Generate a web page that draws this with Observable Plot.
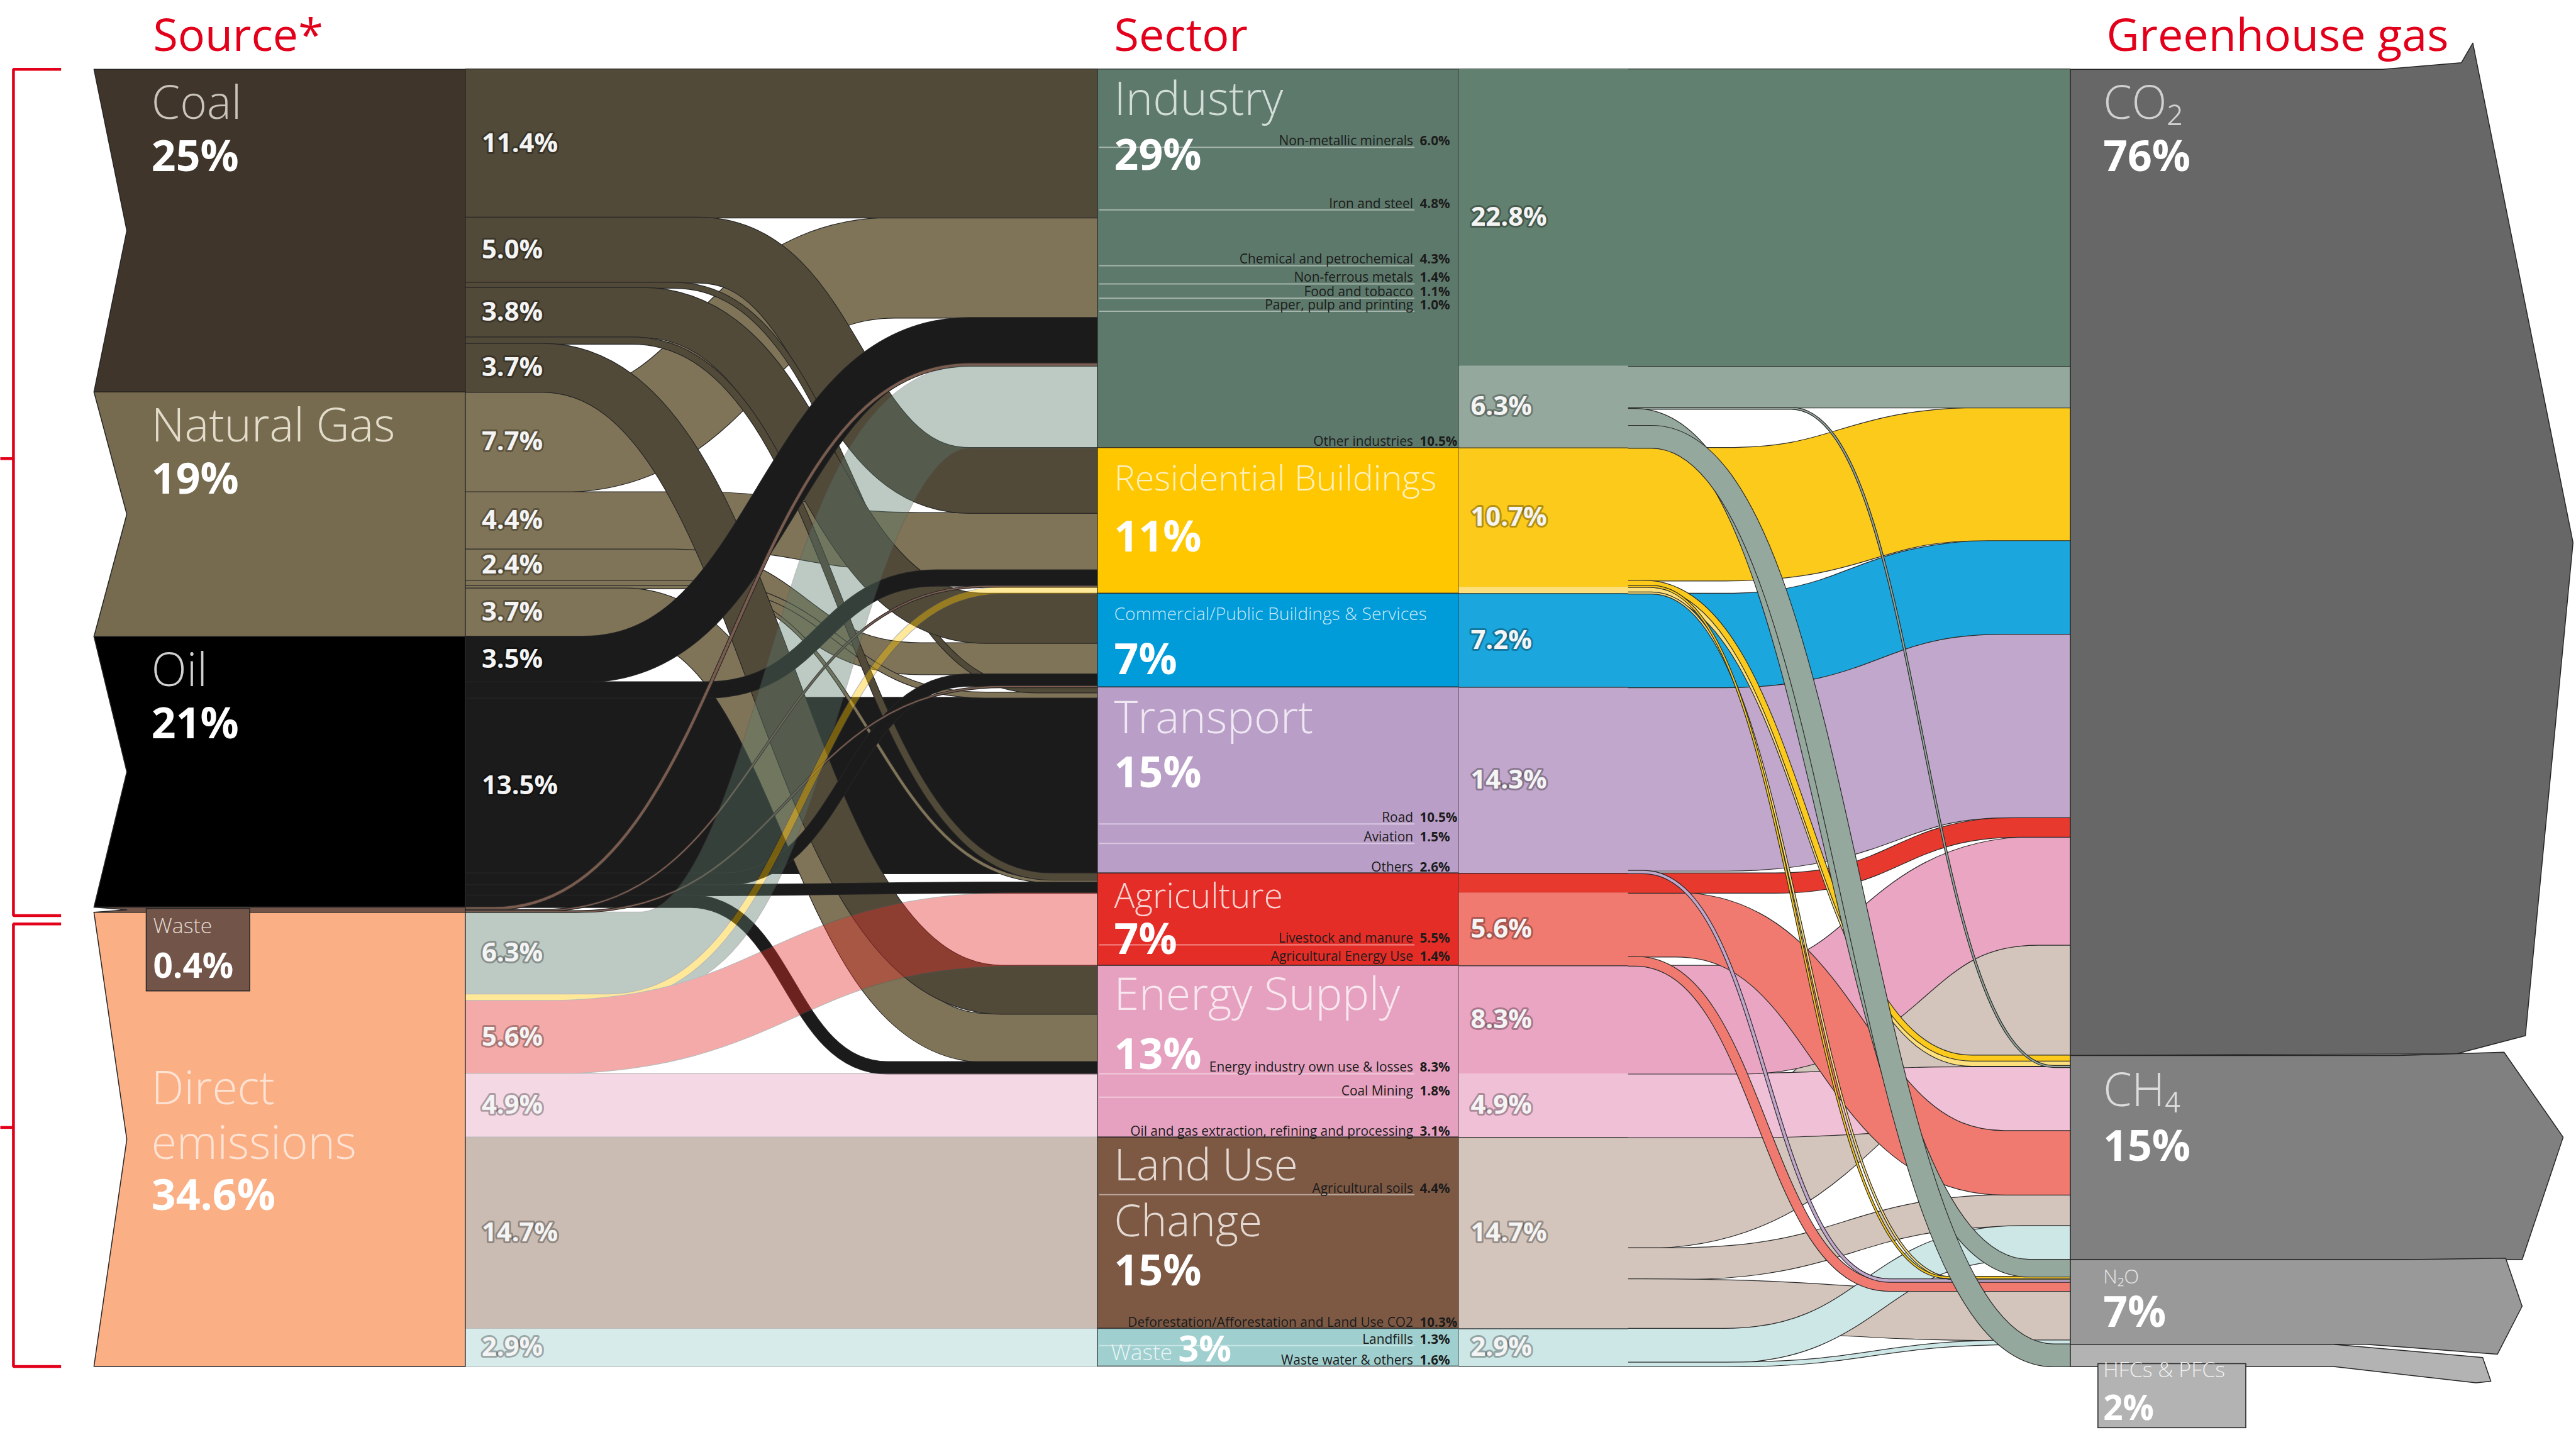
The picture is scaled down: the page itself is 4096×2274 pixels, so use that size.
<!DOCTYPE html>
<html>
<head>
<meta charset="utf-8">
<script src="https://cdn.jsdelivr.net/npm/d3@7"></script>
<script src="https://cdn.jsdelivr.net/npm/@observablehq/plot@0.6"></script>
<style>
  html, body { margin: 0; padding: 0; background: #fff; }
  #chart svg { display: block; }
</style>
</head>
<body>
<div id="chart"></div>
<script>
// ================= DATA =================
const columnTitles = ["Source*", "Sector", "Greenhouse gas"];
const sources = ["Coal", "Natural Gas", "Oil", "Waste", "Direct emissions"];
const sourceShares = ["25%", "19%", "21%", "0.4%", "34.6%"];
const sectors = ["Industry", "Residential Buildings", "Commercial/Public Buildings & Services", "Transport",
  "Agriculture", "Energy Supply", "Land Use Change", "Waste"];
const sectorShares = ["29%", "11%", "7%", "15%", "7%", "13%", "15%", "3%"];
const gases = ["CO₂", "CH₄", "N₂O", "HFCs & PFCs"];
const gasShares = ["76%", "15%", "7%", "2%"];

// source -> sector (% of total emissions)
const sourceToSector = [
  ["Coal", "Industry", 11.4],
  ["Coal", "Residential Buildings", 5.0],
  ["Coal", "Transport", 0.4],
  ["Coal", "Commercial/Public Buildings & Services", 3.8],
  ["Coal", "Agriculture", 0.5],
  ["Coal", "Energy Supply", 3.7],
  ["Natural Gas", "Industry", 7.7],
  ["Natural Gas", "Residential Buildings", 4.4],
  ["Natural Gas", "Commercial/Public Buildings & Services", 2.4],
  ["Natural Gas", "Transport", 0.4],
  ["Natural Gas", "Agriculture", 0.2],
  ["Natural Gas", "Energy Supply", 3.7],
  ["Oil", "Industry", 3.5],
  ["Oil", "Residential Buildings", 1.2],
  ["Oil", "Transport", 13.5],
  ["Oil", "Commercial/Public Buildings & Services", 0.9],
  ["Oil", "Agriculture", 0.8],
  ["Oil", "Energy Supply", 0.9],
  ["Waste", "Industry", 0.2],
  ["Waste", "Residential Buildings", 0.1],
  ["Waste", "Commercial/Public Buildings & Services", 0.1],
  ["Direct emissions", "Industry", 6.3],
  ["Direct emissions", "Residential Buildings", 0.5],
  ["Direct emissions", "Agriculture", 5.6],
  ["Direct emissions", "Energy Supply", 4.9],
  ["Direct emissions", "Land Use Change", 14.7],
  ["Direct emissions", "Waste", 2.9]
];

// right-hand bands of each sector
const sectorParts = [
  ["Industry", "Industry", 22.8],
  ["Industry (process)", "Industry", 6.3],
  ["Residential", "Residential Buildings", 10.7],
  ["Residential (biomass)", "Residential Buildings", 0.5],
  ["Commercial", "Commercial/Public Buildings & Services", 7.2],
  ["Transport", "Transport", 14.3],
  ["Agriculture (energy)", "Agriculture", 1.5],
  ["Agriculture", "Agriculture", 5.6],
  ["Energy Supply", "Energy Supply", 8.3],
  ["Energy Supply (fugitive)", "Energy Supply", 4.9],
  ["Land Use Change", "Land Use Change", 14.7],
  ["Waste", "Waste", 2.9]
];

// sector band -> gas
const sectorToGas = [
  ["Industry", "CO₂", 22.8],
  ["Industry (process)", "CO₂", 3.2],
  ["Industry (process)", "CH₄", 0.1],
  ["Industry (process)", "N₂O", 1.3],
  ["Industry (process)", "HFCs & PFCs", 1.7],
  ["Residential", "CO₂", 10.2],
  ["Residential", "CH₄", 0.4],
  ["Residential", "N₂O", 0.1],
  ["Residential (biomass)", "CH₄", 0.4],
  ["Residential (biomass)", "N₂O", 0.1],
  ["Commercial", "CO₂", 7.2],
  ["Transport", "CO₂", 14.1],
  ["Transport", "N₂O", 0.2],
  ["Agriculture (energy)", "CO₂", 1.5],
  ["Agriculture", "CH₄", 4.9],
  ["Agriculture", "N₂O", 0.7],
  ["Energy Supply", "CO₂", 8.3],
  ["Energy Supply (fugitive)", "CH₄", 4.9],
  ["Land Use Change", "CO₂", 8.5],
  ["Land Use Change", "CH₄", 2.4],
  ["Land Use Change", "N₂O", 3.8],
  ["Waste", "CH₄", 2.6],
  ["Waste", "N₂O", 0.3]
];
const ch4StackOrder = ["Residential", "Residential (biomass)", "Industry (process)", "Energy Supply (fugitive)",
  "Agriculture", "Land Use Change", "Waste"];

// breakdown printed inside the sector blocks
const subSectors = [
  ["Industry", "Non-metallic minerals", 6.0],
  ["Industry", "Iron and steel", 4.8],
  ["Industry", "Chemical and petrochemical", 4.3],
  ["Industry", "Non-ferrous metals", 1.4],
  ["Industry", "Food and tobacco", 1.1],
  ["Industry", "Paper, pulp and printing", 1.0],
  ["Industry", "Other industries", 10.5],
  ["Transport", "Road", 10.5],
  ["Transport", "Aviation", 1.5],
  ["Transport", "Others", 2.6],
  ["Agriculture", "Livestock and manure", 5.5],
  ["Agriculture", "Agricultural Energy Use", 1.4],
  ["Energy Supply", "Energy industry own use & losses", 8.3],
  ["Energy Supply", "Coal Mining", 1.8],
  ["Energy Supply", "Oil and gas extraction, refining and processing", 3.1],
  ["Land Use Change", "Agricultural soils", 4.4],
  ["Land Use Change", "Deforestation/Afforestation and Land Use CO2", 10.3],
  ["Waste", "Landfills", 1.3],
  ["Waste", "Waste water & others", 1.6]
];

// ================= LAYOUT & STYLE =================
const W = 4096, H = 2274;
const S = W / 1568;          // reference-view px -> output px
const TOP = 42, K = 7.92;    // reference-view y of 0 %, px per 1 %
const PX = K * S;            // output px per 1 %
const yDomain = [-TOP / K, (H / S - TOP) / K];
const off = n => n / K;      // reference-view px offset -> value units
const fs = n => n * S;       // reference-view font size -> px
const X = {srcL: 57, srcNotch: 77, srcR: 283, secL: 668, secR: 888, partR: 991, gasL: 1260};
const FONT = "Open Sans, Noto Sans, sans-serif";

const sourceColors = ["#40352a", "#766b4e", "#000000", "#725548", "#fbaf85"];
const sourceTextColors = ["#c9c4bc", "#e3dccb", "#d0d0d0", "#e3d8d2", "#fde3d4"];
const flowColors = {"Coal": "#524a39", "Natural Gas": "#807458", "Oil": "#1b1b1b", "Waste": "#7a5c4f"};
const sectorColors = ["#5d796b", "#ffc700", "#009bd9", "#b99ec7", "#e52d27", "#e6a1c0", "#7d5944", "#9fcfcf"];
const partColors = {
  "Industry": "#62806f", "Industry (process)": "#95a89d", "Residential": "#fcca1b",
  "Residential (biomass)": "#fde07c", "Commercial": "#1ba7de", "Transport": "#c1a7cb",
  "Agriculture (energy)": "#e8392f", "Agriculture": "#f07a70", "Energy Supply": "#e9a5c1",
  "Energy Supply (fugitive)": "#f0c0d7", "Land Use Change": "#d3c5bc", "Waste": "#cde6e6"
};
const gasColors = ["#676767", "#808080", "#999999", "#b3b3b3"];
const DIRECT_OPACITY = 0.4;

// where each band bends (reference-view x): [start of curve, end of curve]
const leftBends = [
  [420, 560], [425, 590], [410, 630], [390, 600], [385, 640], [330, 610],
  [340, 545], [420, 560], [410, 560], [420, 600], [420, 640], [380, 600],
  [355, 590], [430, 570], [420, 560], [440, 590], [420, 600], [420, 540],
  [300, 590], [330, 600], [350, 610],
  [390, 590], [370, 610], [330, 620], [420, 560], [420, 560], [420, 560]
];
const rightBends = [
  [1050, 1200], [1050, 1200], [1090, 1250], [995, 1235], [1005, 1250],
  [1050, 1210], [1000, 1200], [1005, 1185], [1000, 1200], [1005, 1190],
  [1050, 1220], [1050, 1225], [1000, 1150], [1080, 1230], [1020, 1220], [995, 1150],
  [1060, 1240], [1050, 1200], [1000, 1250], [1020, 1230], [1000, 1230], [1050, 1230], [1050, 1230]
];
const leftLayers = ["Natural Gas", "Coal", "Oil", "Waste"];
const rightLayers = ["Land Use Change", "Waste", "Energy Supply (fugitive)", "Energy Supply", "Agriculture",
  "Agriculture (energy)", "Transport", "Commercial", "Residential (biomass)", "Residential", "Industry (process)", "Industry"];

const sectorLabelLayout = [
  {size: 28, offs: [28], pct: 61, col: "#d3ddd8"},
  {size: 21.3, offs: [26], pct: 63, col: "#fff0bf"},
  {size: 10.8, offs: [16], pct: 49, col: "#cce9f7"},
  {size: 27.5, offs: [28], pct: 61, col: "#efe8f3"},
  {size: 21, offs: [21], pct: 49, col: "#fad3d1"},
  {size: 27.5, offs: [27], pct: 63, col: "#f9e7ef"},
  {size: 26.5, offs: [26, 60], pct: 90, col: "#e4d9d2"},
  {size: 13.5, offs: [19], pct: 20, pctX: 717, pctSize: 22, col: "#e9f5f5", x: 676}
];
const gasLabelLayout = [
  {size: 28, off: 30, pct: 62, pctSize: 26, col: "#d0d0d0"},
  {size: 28, off: 31, pct: 64, pctSize: 26, col: "#dcdcdc"},
  {size: 12, off: 14.5, pct: 41, pctSize: 26, col: "#e6e6e6"},
  {size: 13, off: 20, pct: 46, pctSize: 21, col: "#efefef"}
];
const gasShapes = [
  [[1260, 0, 0], [1450, 0, 0], [1498, 0, -4], [1505, 0, -16], [1566, 0.48, 0], [1537, 1, -12], [1495, 1, -1], [1260, 1, 0]],
  [[1260, 0, 0], [1460, 0, 0], [1524, 0, -2], [1560, 0.4, 0], [1535, 1, 0], [1260, 1, 0]],
  [[1260, 0, 0], [1460, 0, 0], [1525, 0, -1], [1535, 0.55, 0], [1520, 1, 6], [1440, 1, 0], [1260, 1, 0]],
  [[1260, 0, 0], [1420, 0, 0], [1511, 0, 8], [1516, 1, 9], [1507, 1, 10], [1420, 1, 0], [1260, 1, 0]]
];

// ================= STACKING =================
const srcIdx = new Map(sources.map((d, i) => [d, i]));
const secIdx = new Map(sectors.map((d, i) => [d, i]));
const L = sourceToSector.map(([s, t, val], i) => ({i, s, t, val}));
const srcBox = new Map();
let acc = 0;
for (const s of sources) {
  const y0 = acc;
  for (const l of L.filter(l => l.s === s)) { l.sy0 = acc; acc += l.val; l.sy1 = acc; }
  srcBox.set(s, {y0, y1: acc});
}
const secBox = new Map();
acc = 0;
for (const t of sectors) {
  const y0 = acc;
  const ins = L.filter(l => l.t === t).sort((a, b) => srcIdx.get(a.s) - srcIdx.get(b.s) || a.i - b.i);
  for (const l of ins) { l.ty0 = acc; acc += l.val; l.ty1 = acc; }
  secBox.set(t, {y0, y1: acc});
}
const P = sectorParts.map(([key, sector, val], i) => ({key, sector, val, i}));
const partIdx = new Map(P.map(p => [p.key, p.i]));
const R = sectorToGas.map(([p, g, val], i) => ({i, p, g, val}));
acc = 0;
for (const p of P) {
  p.y0 = acc;
  for (const r of R.filter(r => r.p === p.key)) { r.sy0 = acc; acc += r.val; r.sy1 = acc; }
  p.y1 = acc;
}
const gasBox = new Map();
acc = 0;
for (const g of gases) {
  const y0 = acc;
  const rank = r => g === "CH₄" ? ch4StackOrder.indexOf(r.p) : partIdx.get(r.p);
  const ins = R.filter(r => r.g === g).sort((a, b) => rank(a) - rank(b));
  for (const r of ins) { r.ty0 = acc; acc += r.val; r.ty1 = acc; }
  gasBox.set(g, {y0, y1: acc});
}

// ================= GEOMETRY ROWS =================
const OUTLINE = 2.4;
function bandRows(links, x0, x1, bends, colorOf, outlineColor, tag) {
  const rows = [];
  for (const l of links) {
    const c0 = (l.sy0 + l.sy1) / 2, c1 = (l.ty0 + l.ty1) / 2;
    const [xa, xb] = bends[l.i];
    const pts = [[x0, c0], [xa, c0], [xb, c1], [x1, c1]];
    const w = l.val * PX;
    for (const [part, sw, col] of [["o", w + OUTLINE, outlineColor], ["f", w, colorOf(l)]])
      for (const [x, y] of pts) rows.push({id: `${tag}${l.i}${part}`, x, y, w: sw, col});
  }
  return rows;
}
const leftRank = l => (l.s === "Oil" && l.t === "Transport") ? -1 : leftLayers.indexOf(l.s);
const fossilLinks = L.filter(l => l.s !== "Direct emissions").sort((a, b) => leftRank(a) - leftRank(b) || a.i - b.i);
const directLinks = L.filter(l => l.s === "Direct emissions");
const rightLinks = R.slice().sort((a, b) => rightLayers.indexOf(a.p) - rightLayers.indexOf(b.p) || a.i - b.i);

const fossilRows = bandRows(fossilLinks, X.srcR, X.secL, leftBends, l => flowColors[l.s], "#262626", "f");
const directRows = bandRows(directLinks, X.srcR, X.secL, leftBends, l => sectorColors[secIdx.get(l.t)], "#555555", "d");
const rightRows = bandRows(rightLinks, X.secR, X.gasL, rightBends, r => partColors[r.p], "#2a2a2a", "r");

const chevronRows = [];
sources.forEach((s, i) => {
  const b = srcBox.get(s);
  const pts = [[X.srcL, b.y0], [X.srcR, b.y0], [X.srcR, b.y1], [X.srcL, b.y1], [X.srcNotch, (b.y0 + b.y1) / 2]];
  for (const [x, y] of pts) chevronRows.push({id: s, x, y, col: sourceColors[i]});
});
const gasRows = [];
gases.forEach((g, i) => {
  const b = gasBox.get(g);
  for (const [x, t, o] of gasShapes[i]) gasRows.push({id: g, x, y: b.y0 + t * (b.y1 - b.y0) + off(o), col: gasColors[i]});
});
const sectorRects = sectors.map((t, i) => ({...secBox.get(t), col: sectorColors[i]}));
const partRects = P.map(p => ({y0: p.y0, y1: p.y1, col: partColors[p.key]}));
const partBounds = sectors.slice(1).map(t => ({y: secBox.get(t).y0}));

const wasteB = srcBox.get("Waste"), hfcB = gasBox.get("HFCs & PFCs");
const boxes = [
  {x1: 89, x2: 152, y0: wasteB.y0 + off(1), y1: wasteB.y1 + off(48), col: sourceColors[3]},
  {x1: 1277, x2: 1367, y0: hfcB.y1 - off(1.5), y1: hfcB.y1 + off(37.5), col: gasColors[3]}
];

const fossilTop = srcBox.get("Coal").y0, fossilBot = wasteB.y1, dirB = srcBox.get("Direct emissions");
const bracketRows = [];
[[fossilTop, fossilBot + off(2)], [dirB.y0 + off(7), dirB.y1]].forEach(([a, b], k) => {
  for (const [x, y] of [[37, a], [8, a], [8, b], [37, b]]) bracketRows.push({id: "b" + k, x, y});
  const m = a + 0.46 * (b - a);
  bracketRows.push({id: "t" + k, x: 0, y: m}, {id: "t" + k, x: 8, y: m});
});

// ================= TEXT ROWS =================
const light = [], bold = [], small = [], smallBold = [], linkLab = [], titles = [];
sources.forEach((s, i) => {
  const b = srcBox.get(s);
  if (s === "Waste") {
    light.push({x: 93, y: b.y0 + off(16), text: s, size: fs(13), col: sourceTextColors[i]});
    bold.push({x: 93, y: b.y0 + off(43), text: sourceShares[i], size: fs(21), col: "#ffffff"});
  } else if (s === "Direct emissions") {
    s.split(" ").forEach((w, j) => light.push({x: 92, y: b.y0 + off(117 + 33 * j), text: w, size: fs(28), col: sourceTextColors[i]}));
    bold.push({x: 92, y: b.y0 + off(181), text: sourceShares[i], size: fs(26), col: "#ffffff"});
  } else {
    light.push({x: 92, y: b.y0 + off(30), text: s, size: fs(28), col: sourceTextColors[i]});
    bold.push({x: 92, y: b.y0 + off(62), text: sourceShares[i], size: fs(26), col: "#ffffff"});
  }
});
sectors.forEach((t, i) => {
  const b = secBox.get(t), lay = sectorLabelLayout[i];
  const lines = t === "Land Use Change" ? ["Land Use", "Change"] : [t];
  lines.forEach((ln, j) => light.push({x: lay.x ?? 678, y: b.y0 + off(lay.offs[j]), text: ln, size: fs(lay.size), col: lay.col}));
  bold.push({x: lay.pctX ?? 678, y: b.y0 + off(lay.pct), text: sectorShares[i], size: fs(lay.pctSize ?? 26), col: "#ffffff"});
});
gases.forEach((g, i) => {
  const b = gasBox.get(g), lay = gasLabelLayout[i];
  light.push({x: 1280, y: b.y0 + off(lay.off), text: g, size: fs(lay.size), col: lay.col});
  bold.push({x: 1280, y: b.y0 + off(lay.pct), text: gasShares[i], size: fs(lay.pctSize), col: "#ffffff"});
});
const subLines = [];
for (const t of sectors) {
  const items = subSectors.filter(d => d[0] === t);
  const b = secBox.get(t);
  let cum = 0;
  items.forEach(([, name, val], j) => {
    cum += val;
    const yy = b.y0 + Math.min(cum, b.y1 - b.y0);
    small.push({x: 860, y: yy - off(1.2), text: name, size: fs(8), col: "#1c1c1c"});
    smallBold.push({x: 864, y: yy - off(1.2), text: val.toFixed(1) + "%", size: fs(7.9), col: "#1c1c1c"});
    if (j < items.length - 1) subLines.push({y: yy});
  });
}
L.filter(l => l.val >= 2).forEach(l => linkLab.push({x: 293, y: (l.sy0 + l.sy1) / 2, text: l.val.toFixed(1) + "%", size: fs(16), col: "#f4f4f4"}));
P.filter(p => p.val >= 2).forEach(p => linkLab.push({x: 895, y: (p.y0 + p.y1) / 2, text: p.val.toFixed(1) + "%", size: fs(16), col: "#f4f4f4"}));
[93, 678, 1282].forEach((x, i) => titles.push({x, y: off(31 - TOP), text: columnTitles[i], size: fs(27.5), col: "#e2001a"}));

// ================= PLOT =================
const bandOpts = {x: "x", y: "y", z: "id", stroke: "col", strokeWidth: "w", curve: "bump-x", strokeLinecap: "butt", strokeLinejoin: "round"};
const polyOpts = {x: "x", y: "y", z: "id", fill: "col", stroke: "#262626", strokeWidth: 1.5, curve: "linear-closed"};
const txt = (rows, o) => Plot.text(rows, {x: "x", y: "y", text: "text", fill: "col", fontSize: "size",
  textAnchor: "start", lineAnchor: "bottom", fontFamily: FONT, ...o});

const chart = Plot.plot({
  width: W, height: H, margin: 0,
  style: {background: "#ffffff", fontFamily: FONT},
  x: {type: "linear", domain: [0, 1568], range: [0, W], axis: null},
  y: {type: "linear", domain: yDomain, range: [0, H], axis: null},
  color: {type: "identity"},
  marks: [
    Plot.line(fossilRows, bandOpts),
    Plot.line(directRows, bandOpts),
    Plot.line(rightRows, bandOpts),
    Plot.line(chevronRows, polyOpts),
    Plot.rect(sectorRects, {x1: X.secL, x2: X.secR, y1: "y0", y2: "y1", fill: "col", stroke: "#262626", strokeWidth: 1.5, strokeOpacity: 0.8}),
    Plot.rect(partRects, {x1: X.secR, x2: X.partR, y1: "y0", y2: "y1", fill: "col"}),
    Plot.ruleY(partBounds, {y: "y", x1: X.secR, x2: X.partR, stroke: "#262626", strokeWidth: 1.5, strokeOpacity: 0.8}),
    Plot.line(gasRows, polyOpts),
    Plot.rect(boxes, {x1: "x1", x2: "x2", y1: "y0", y2: "y1", fill: "col", stroke: "#262626", strokeWidth: 1.5}),
    Plot.ruleY(subLines, {y: "y", x1: 669, x2: 861, stroke: "#ffffff", strokeOpacity: 0.45, strokeWidth: 2}),
    Plot.line(bracketRows, {x: "x", y: "y", z: "id", stroke: "#e2001a", strokeWidth: 4.5, curve: "linear", strokeLinecap: "butt", strokeLinejoin: "miter"}),
    txt(light, {fontWeight: 300}),
    txt(bold, {fontWeight: 700}),
    txt(small, {fontWeight: 400, textAnchor: "end"}),
    txt(smallBold, {fontWeight: 700}),
    txt(linkLab, {fontWeight: 700, lineAnchor: "middle", stroke: "#000000", strokeOpacity: 0.3, strokeWidth: 6, paintOrder: "stroke"}),
    txt(titles, {fontWeight: 500})
  ]
});
document.getElementById("chart").append(chart);
// the second line mark holds the direct-emission bands: make that layer translucent as a whole
const lineGroups = Array.from(chart.querySelectorAll("g")).filter(g => g.parentNode === chart && g.getAttribute("aria-label") === "line");
if (lineGroups[1]) lineGroups[1].setAttribute("opacity", DIRECT_OPACITY);
</script>
</body>
</html>
